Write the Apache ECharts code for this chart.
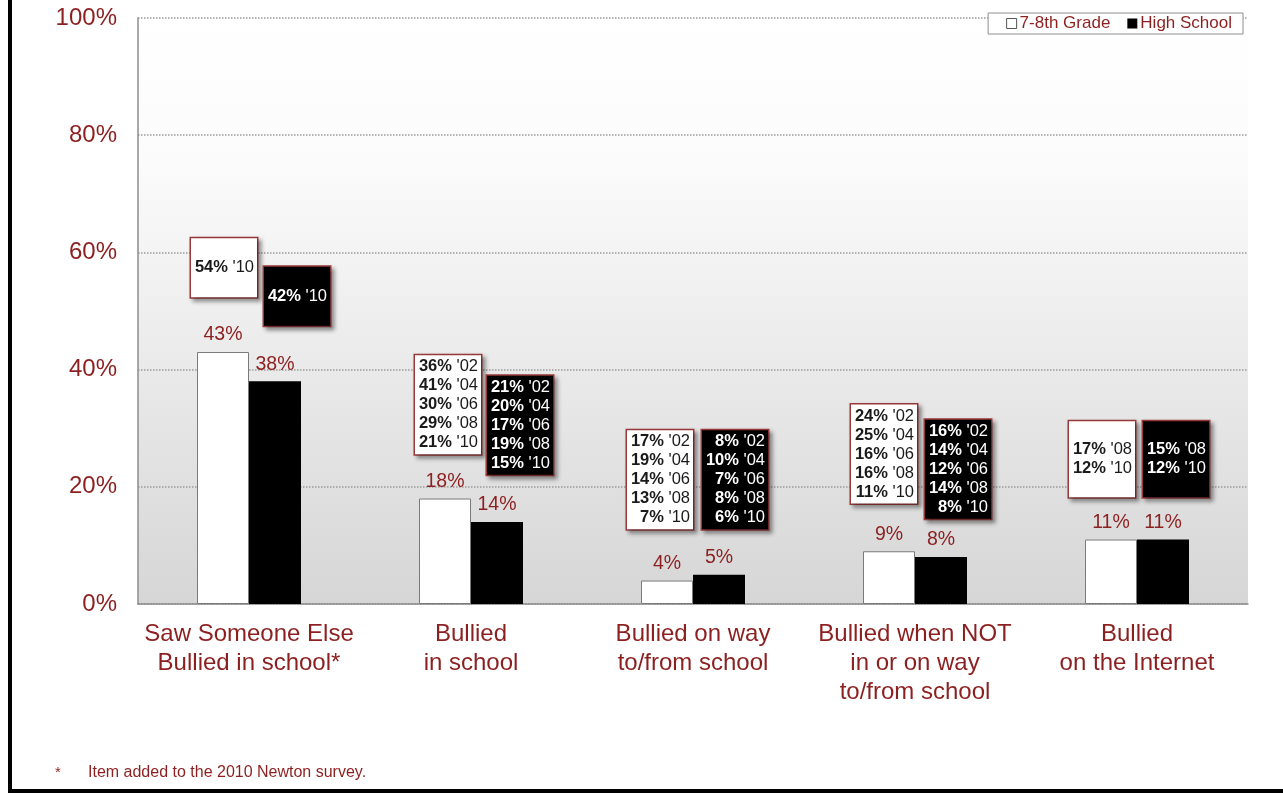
<!DOCTYPE html>
<html>
<head>
<meta charset="utf-8">
<title>Bullying survey</title>
<script src="https://cdn.jsdelivr.net/npm/echarts@6/dist/echarts.min.js"></script>
<style>
  html, body { margin: 0; padding: 0; background: #ffffff; }
  #chart { width: 1283px; height: 793px; }
</style>
</head>
<body>
<div id="chart"></div>
<script>
// Categories along the x axis
const categories = [
  'Saw Someone Else\nBullied in school*',
  'Bullied\nin school',
  'Bullied on way\nto/from school',
  'Bullied when NOT\nin or on way\nto/from school',
  'Bullied\non the Internet'
];

// 2010 values per group (percent)
const grade78 = [43, 18, 4, 9, 11];
const highSchool = [38, 14, 5, 8, 11];

// Earlier survey results shown in the call-out boxes: [percent, year]
const trend78 = [
  [[54, "'10"]],
  [[36, "'02"], [41, "'04"], [30, "'06"], [29, "'08"], [21, "'10"]],
  [[17, "'02"], [19, "'04"], [14, "'06"], [13, "'08"], [7, "'10"]],
  [[24, "'02"], [25, "'04"], [16, "'06"], [16, "'08"], [11, "'10"]],
  [[17, "'08"], [12, "'10"]]
];
const trendHS = [
  [[42, "'10"]],
  [[21, "'02"], [20, "'04"], [17, "'06"], [19, "'08"], [15, "'10"]],
  [[8, "'02"], [10, "'04"], [7, "'06"], [8, "'08"], [6, "'10"]],
  [[16, "'02"], [14, "'04"], [12, "'06"], [14, "'08"], [8, "'10"]],
  [[15, "'08"], [12, "'10"]]
];

// Y axis ticks
const yTicks = [0, 20, 40, 60, 80, 100];

// Call-out placement: vertical centre on the value scale, horizontal shift (px) from the bar centre
const box78Y = [57.4, 34.0, 21.2, 25.6, 24.7];
const box78DX = [1, 3, -7, -5, -9];
const boxHSY = [52.5, 30.5, 21.2, 23.0, 24.7];
const boxHSDX = [22, 23, 16, 17, 13];

const RED = '#8c1f1f';
const FONT = '"Liberation Sans", Arial, sans-serif';

function boxText(rows) {
  return rows.map(r => '{b|' + r[0] + '%}{n| ' + r[1] + '}').join('\n');
}

function callouts(trend, ys, dxs, dark) {
  return trend.map((rows, i) => {
    const padV = rows.length === 1 ? 20 : (rows.length === 2 ? 19 : 2);
    const ink = dark ? '#ffffff' : '#1a1a1a';
    return {
      coord: [i, ys[i]],
      symbol: 'rect',
      symbolSize: 1,
      itemStyle: { color: 'rgba(0,0,0,0)' },
      label: {
        show: true,
        position: 'inside',
        offset: [dxs[i], 0],
        formatter: boxText(rows),
        width: 60,
        padding: [padV, 3],
        backgroundColor: dark ? '#000000' : '#ffffff',
        borderColor: '#9a3a3a',
        borderWidth: 1.5,
        shadowColor: 'rgba(0,0,0,0.35)',
        shadowBlur: 4,
        shadowOffsetX: 3,
        shadowOffsetY: 3,
        lineHeight: 19,
        rich: {
          b: { fontFamily: FONT, fontSize: 16.5, fontWeight: 'bold', color: ink, align: 'right', lineHeight: 19 },
          n: { fontFamily: FONT, fontSize: 16.5, color: ink, align: 'right', lineHeight: 19 }
        }
      }
    };
  });
}

const chart = echarts.init(document.getElementById('chart'), null, { renderer: 'canvas' });

const valueLabel = {
  show: true,
  position: 'top',
  distance: 7,
  formatter: '{c}%',
  color: RED,
  fontSize: 19.5,
  fontFamily: FONT
};

chart.setOption({
  animation: false,
  backgroundColor: '#ffffff',
  textStyle: { fontFamily: FONT },
  grid: {
    left: 138, right: 35, top: 18, bottom: 189,
    show: true,
    borderWidth: 0,
    backgroundColor: new echarts.graphic.LinearGradient(0, 0, 0, 1, [
      { offset: 0, color: '#ffffff' },
      { offset: 0.25, color: '#fbfbfb' },
      { offset: 1, color: '#d6d6d6' }
    ])
  },
  legend: {
    right: 40, top: 13,
    backgroundColor: '#ffffff',
    borderColor: '#8f8f8f',
    borderWidth: 1,
    padding: [2, 11, 2, 18],
    itemWidth: 10, itemHeight: 10, itemGap: 17,
    icon: 'rect',
    textStyle: { color: RED, fontSize: 17, fontFamily: FONT, padding: [0, 0, 0, -2] },
    data: [
      { name: '7-8th Grade', itemStyle: { color: '#ffffff', borderColor: '#555555', borderWidth: 1 } },
      { name: 'High School', itemStyle: { color: '#000000' } }
    ]
  },
  xAxis: {
    type: 'category',
    data: categories,
    axisLine: { show: true, lineStyle: { color: '#8c8c8c', width: 1.5 } },
    axisTick: { show: false },
    axisLabel: {
      interval: 0,
      margin: 16,
      color: RED,
      fontSize: 24,
      lineHeight: 29,
      fontFamily: FONT
    }
  },
  yAxis: {
    type: 'value',
    min: yTicks[0],
    max: yTicks[yTicks.length - 1],
    interval: yTicks[1] - yTicks[0],
    axisLine: { show: true, lineStyle: { color: '#8c8c8c', width: 1.5 } },
    axisTick: { show: false },
    axisLabel: {
      formatter: '{value}%',
      margin: 21,
      color: RED,
      fontSize: 24,
      fontFamily: FONT
    },
    splitLine: { show: true, lineStyle: { color: '#9a9a9a', type: 'dotted', width: 1.5 } }
  },
  series: [
    {
      name: '7-8th Grade',
      type: 'bar',
      data: grade78,
      barWidth: 52,
      barGap: '0%',
      itemStyle: { color: '#ffffff', borderColor: '#7a7a7a', borderWidth: 1 },
      label: valueLabel,
      markPoint: {
        silent: true,
        data: callouts(trend78, box78Y, box78DX, false)
      }
    },
    {
      name: 'High School',
      type: 'bar',
      data: highSchool,
      barWidth: 52,
      barGap: '0%',
      itemStyle: { color: '#000000' },
      label: valueLabel,
      markPoint: {
        silent: true,
        data: callouts(trendHS, boxHSY, boxHSDX, true)
      }
    }
  ],
  graphic: [
    { type: 'rect', left: 8, top: 0, shape: { width: 4, height: 793 }, style: { fill: '#000000' } },
    { type: 'rect', left: 8, top: 789, shape: { width: 1275, height: 4 }, style: { fill: '#000000' } },
    { type: 'text', left: 55, top: 765, style: { text: '*', fill: RED, fontSize: 15, fontFamily: FONT } },
    { type: 'text', left: 88, top: 765, style: { text: 'Item added to the 2010 Newton survey.', fill: RED, fontSize: 16, fontFamily: FONT } }
  ]
});
</script>
</body>
</html>
